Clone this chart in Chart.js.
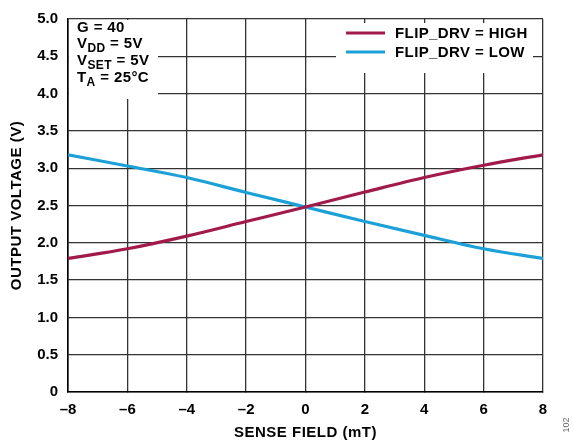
<!DOCTYPE HTML>
<html lang="en">
<head>
    <meta charset="UTF-8">
    <title>Output Voltage vs Sense Field</title>
    <script src="https://cdn.jsdelivr.net/npm/chart.js"></script>
    <style>
        html, body { margin: 0; padding: 0; background: #fff; }
        #wrap { width: 574px; height: 446px; position: relative; }
    </style>
</head>
<body>
<div id="wrap"><canvas id="voltChart"></canvas></div>

<script>
    // values
    const fieldMT = [-8, -6, -4, -2, 0, 2, 4, 6, 8];
    const highV = [1.79, 1.92, 2.09, 2.285, 2.48, 2.68, 2.875, 3.04, 3.18];
    const lowV = [3.18, 3.03, 2.875, 2.675, 2.48, 2.285, 2.10, 1.92, 1.79];
    const seriesNames = ['FLIP_DRV = HIGH', 'FLIP_DRV = LOW'];
    const seriesColors = ['#a11a4b', '#1ba1d8'];

    const FONT = 'Liberation Sans, Arial, sans-serif';

    function toXY(ys) {
        return fieldMT.map((x, i) => ({ x: x, y: ys[i] }));
    }

    // text with optional subscript part: [[text, sub], ...]
    function drawParts(ctx, parts, x, y) {
        parts.forEach(p => {
            ctx.font = 'bold 15px ' + FONT;
            ctx.fillText(p[0], x, y);
            x += ctx.measureText(p[0]).width;
            if (p[1]) {
                ctx.font = 'bold 12px ' + FONT;
                ctx.fillText(p[1], x, y + 4);
                x += ctx.measureText(p[1]).width;
            }
        });
    }

    const overlay = {
        id: 'overlay',
        beforeDatasetsDraw(chart) {
            const ctx = chart.ctx;
            const a = chart.chartArea;
            ctx.save();
            ctx.fillStyle = '#fff';
            // boxes behind the notes and the legend
            ctx.fillRect(a.left + 1, a.top + 1, 89, 79);
            ctx.fillRect(336, a.top + 4, 197, 50);

            ctx.fillStyle = '#000';
            ctx.textBaseline = 'alphabetic';
            ctx.textAlign = 'left';
            ctx.letterSpacing = '0.4px';
            drawParts(ctx, [['G = 40']], 77, 32);
            drawParts(ctx, [['V', 'DD'], [' = 5V']], 77, 48);
            drawParts(ctx, [['V', 'SET'], [' = 5V']], 77, 65);
            drawParts(ctx, [['T', 'A'], [' = 25°C']], 77, 82);

            // legend
            ctx.lineWidth = 3;
            seriesNames.forEach((name, i) => {
                const y = 33 + i * 19;
                ctx.strokeStyle = seriesColors[i];
                ctx.beginPath();
                ctx.moveTo(346, y);
                ctx.lineTo(385, y);
                ctx.stroke();
                ctx.fillStyle = '#000';
                ctx.font = 'bold 15px ' + FONT;
                ctx.textBaseline = 'middle';
                ctx.fillText(name, 395, y + 1);
            });
            ctx.restore();
        },
        afterDraw(chart) {
            const ctx = chart.ctx;
            const a = chart.chartArea;
            ctx.save();
            ctx.fillStyle = '#000';
            ctx.font = 'bold 15px ' + FONT;
            ctx.letterSpacing = '0.5px';
            ctx.textAlign = 'center';
            ctx.textBaseline = 'middle';
            ctx.fillText('SENSE FIELD (mT)', (a.left + a.right) / 2, 433);
            ctx.translate(17, (a.top + a.bottom) / 2);
            ctx.rotate(-Math.PI / 2);
            ctx.fillText('OUTPUT VOLTAGE (V)', 0, 0);
            ctx.restore();

            ctx.save();
            ctx.fillStyle = '#666';
            ctx.font = '9px ' + FONT;
            ctx.textAlign = 'center';
            ctx.textBaseline = 'middle';
            ctx.translate(567, 425);
            ctx.rotate(-Math.PI / 2);
            ctx.fillText('102', 0, 0);
            ctx.restore();
        }
    };

    const ctx = document.getElementById('voltChart').getContext('2d');
    new Chart(ctx, {
        type: 'line',
        data: {
            datasets: [
                {
                    label: seriesNames[0],
                    data: toXY(highV),
                    borderColor: seriesColors[0],
                    borderWidth: 3.2,
                    pointRadius: 0,
                    cubicInterpolationMode: 'monotone',
                    fill: false
                },
                {
                    label: seriesNames[1],
                    data: toXY(lowV),
                    borderColor: seriesColors[1],
                    borderWidth: 3.2,
                    pointRadius: 0,
                    cubicInterpolationMode: 'monotone',
                    fill: false
                }
            ]
        },
        options: {
            responsive: true,
            maintainAspectRatio: false,
            animation: false,
            layout: { padding: { top: 13, right: 31, left: 0, bottom: 0 } },
            plugins: {
                legend: { display: false },
                tooltip: { enabled: false }
            },
            scales: {
                x: {
                    type: 'linear',
                    min: -8,
                    max: 8,
                    afterFit: s => { s.height = 54; },
                    ticks: {
                        stepSize: 2,
                        padding: 9,
                        color: '#000',
                        font: { family: FONT, size: 15, weight: 'bold' },
                        maxRotation: 0,
                        callback: v => v < 0 ? '–' + Math.abs(v) : String(v)
                    },
                    grid: { color: '#333', lineWidth: 1.3, tickLength: 0 },
                    border: { color: '#000', width: 1.6 }
                },
                y: {
                    min: 0,
                    max: 5,
                    afterFit: s => { s.width = 68; },
                    ticks: {
                        stepSize: 0.5,
                        padding: 10,
                        color: '#000',
                        font: { family: FONT, size: 15, weight: 'bold' },
                        callback: v => v === 0 ? '0' : v.toFixed(1)
                    },
                    grid: { color: '#333', lineWidth: 1.3, tickLength: 0 },
                    border: { color: '#000', width: 1.6 }
                }
            }
        },
        plugins: [overlay]
    });
</script>
</body>
</html>
